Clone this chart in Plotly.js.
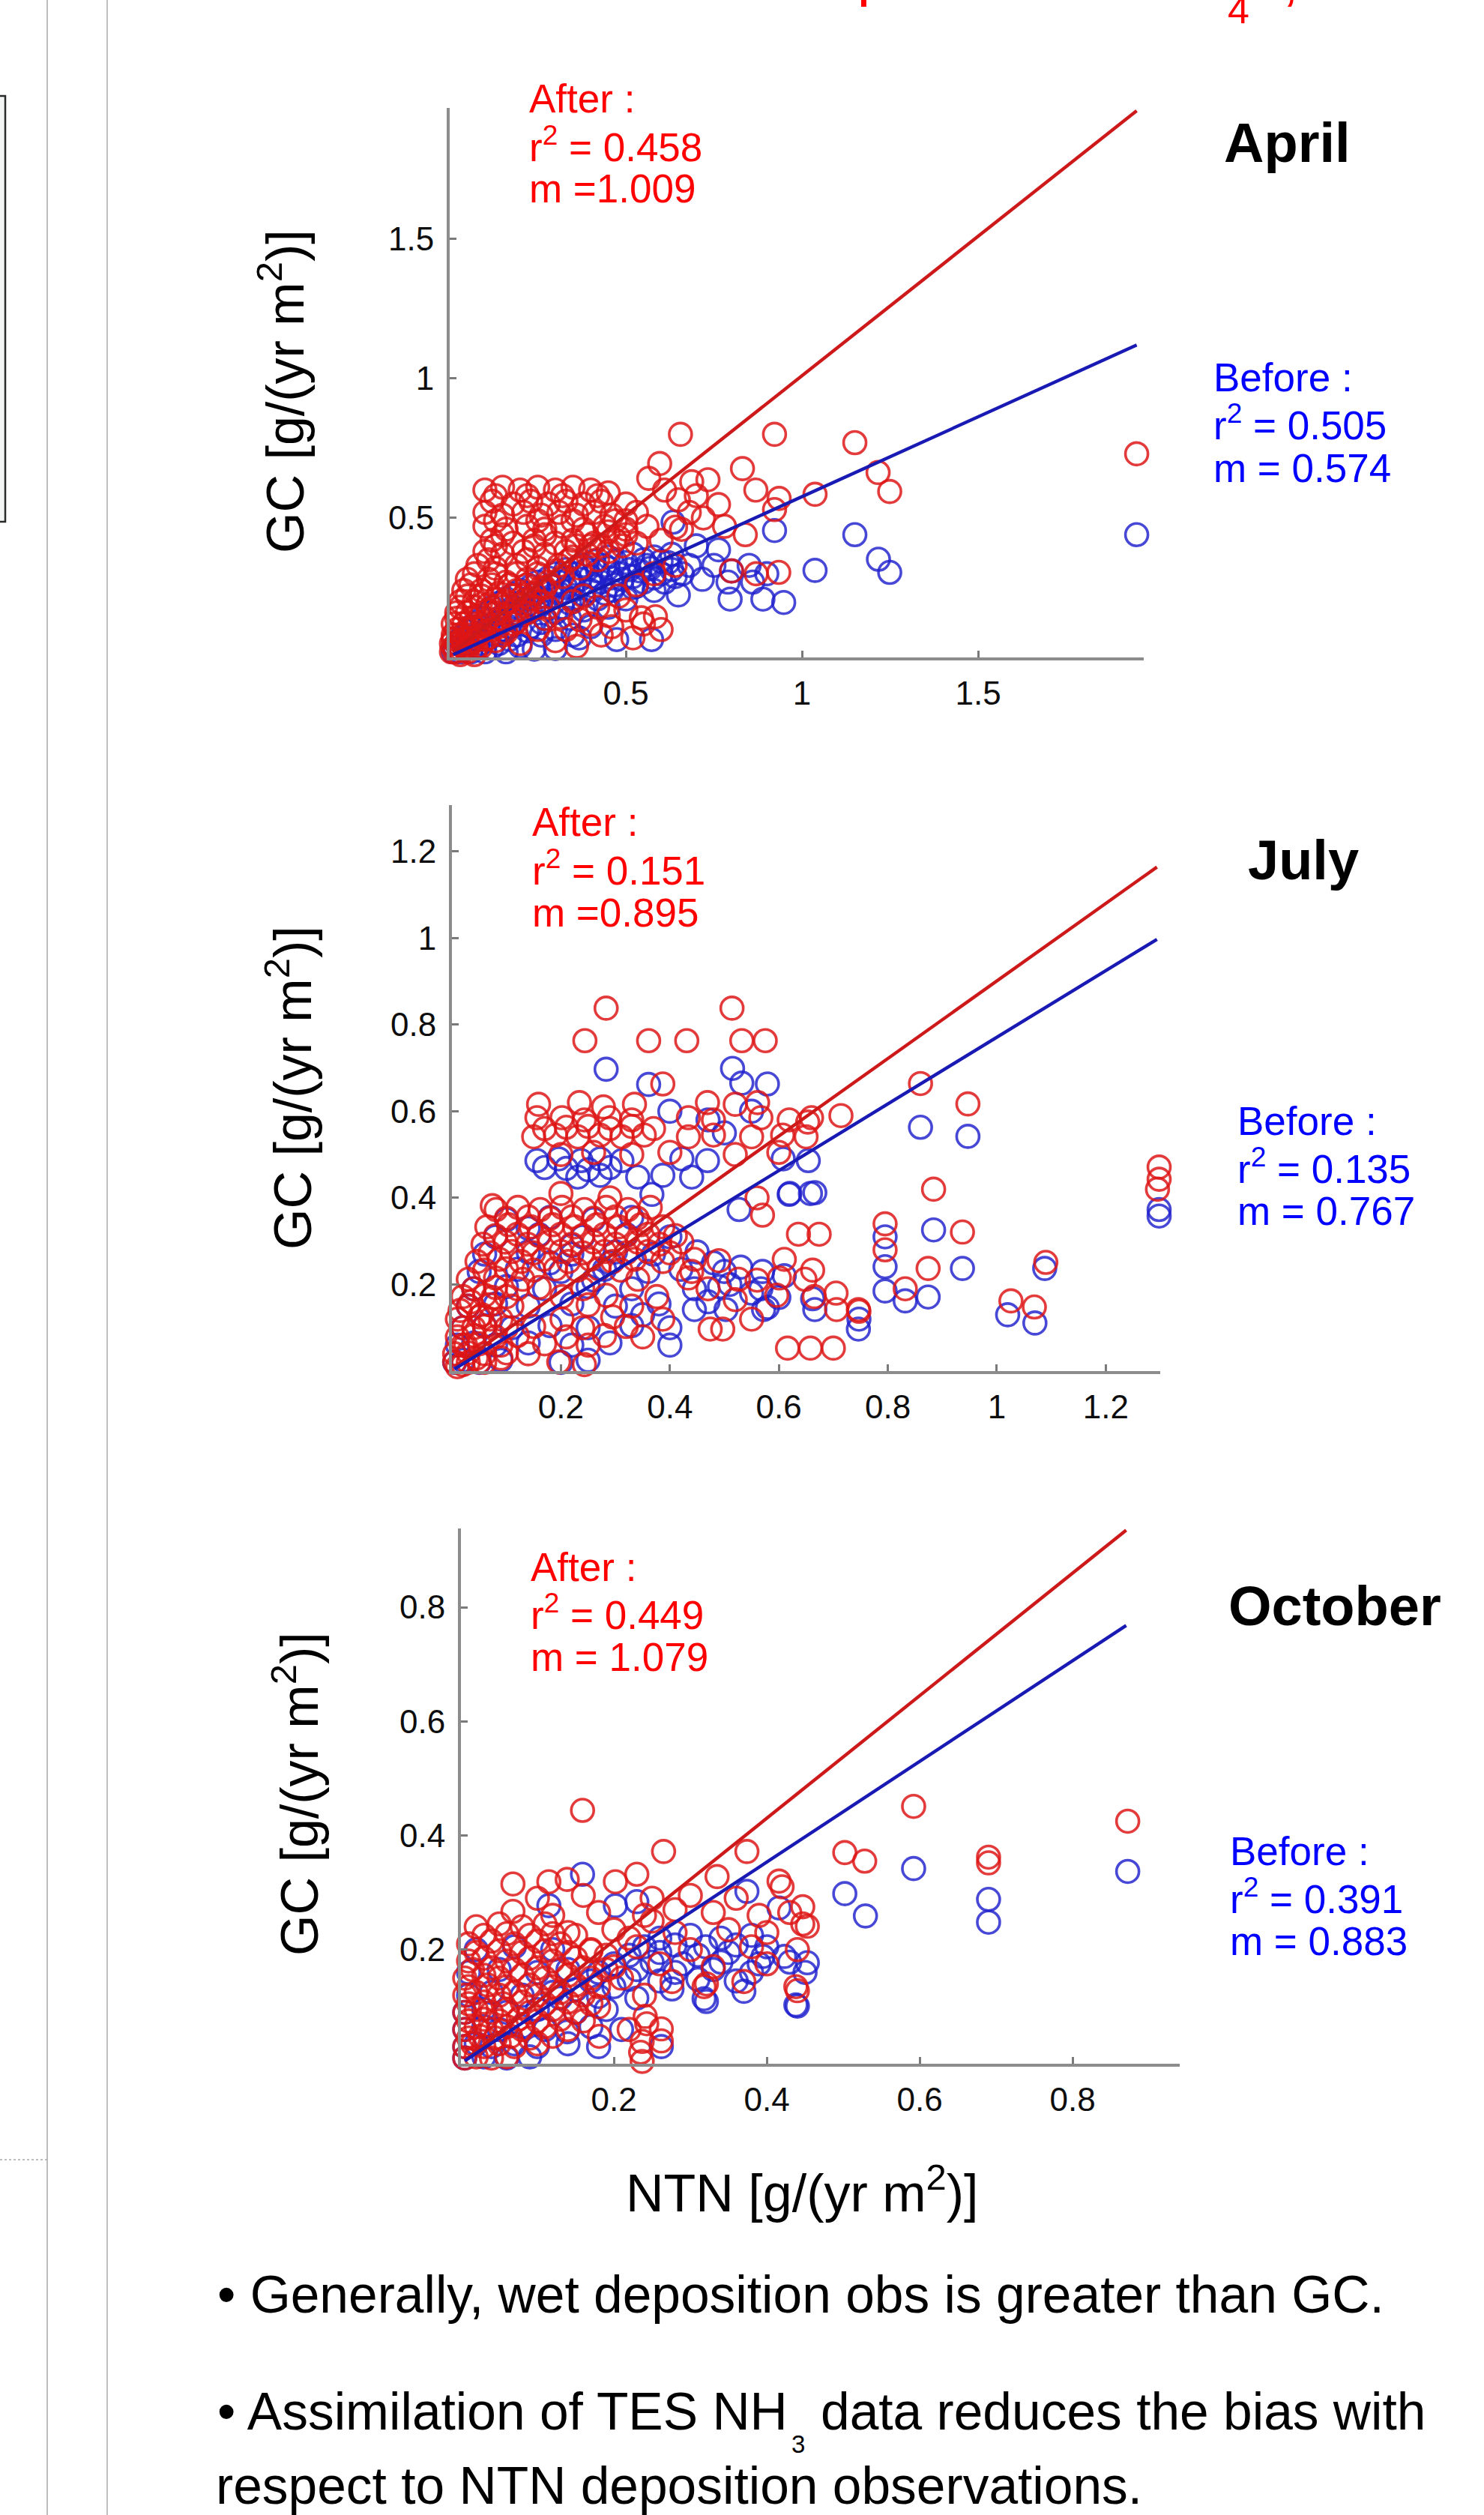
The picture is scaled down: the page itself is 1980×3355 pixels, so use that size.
<!DOCTYPE html>
<html>
<head>
<meta charset="utf-8">
<script src="https://cdn.plot.ly/plotly-3.0.1.min.js"></script>
<style>
html,body{margin:0;padding:0;background:#fff;}
#chart{width:1980px;height:3355px;}
</style>
</head>
<body>
<div id="chart"></div>
<script>
// ---------------- DATA ----------------
// April: [NTN, GC]
const aprAfter = [
[1.95,0.73],[1.15,0.77],[0.655,0.80],[0.922,0.80],[1.216,0.663],[1.249,0.595],[1.037,0.585],[0.596,0.695],[0.831,0.677],[0.565,0.642],
[0.869,0.60],[0.763,0.548],[0.733,0.637],[0.687,0.63],[0.649,0.565],[0.641,0.467],[0.922,0.53],[0.935,0.57],[0.839,0.44],[0.658,0.459],
[0.934,0.305],[0.87,0.30],[0.80,0.31],[0.70,0.58],[0.61,0.60],[0.72,0.50],[0.78,0.47],[0.68,0.52],
[0.10,0.60],[0.15,0.61],[0.20,0.60],[0.25,0.61],[0.30,0.60],[0.35,0.61],[0.40,0.60],[0.45,0.59],
[0.12,0.56],[0.18,0.55],[0.23,0.56],[0.28,0.55],[0.33,0.56],[0.38,0.55],[0.43,0.56],[0.50,0.55],
[0.10,0.52],[0.15,0.51],[0.21,0.52],[0.26,0.51],[0.31,0.52],[0.36,0.51],[0.41,0.52],[0.46,0.51],[0.53,0.52],
[0.10,0.47],[0.16,0.46],[0.22,0.47],[0.27,0.46],[0.32,0.47],[0.38,0.46],[0.44,0.47],[0.50,0.46],[0.56,0.47],
[0.12,0.42],[0.18,0.41],[0.24,0.42],[0.30,0.41],[0.35,0.42],[0.41,0.41],[0.47,0.42],[0.53,0.41],[0.60,0.42],
[0.10,0.38],[0.15,0.37],[0.21,0.38],[0.27,0.37],[0.33,0.38],[0.39,0.37],[0.45,0.38],
[0.08,0.33],[0.13,0.32],[0.19,0.33],[0.25,0.32],[0.31,0.33],[0.37,0.32],
[0.05,0.28],[0.11,0.28],[0.16,0.27],[0.22,0.28],[0.28,0.27],
[0.04,0.24],[0.09,0.24],[0.14,0.23],[0.19,0.24],[0.24,0.23],
[0.03,0.20],[0.07,0.20],[0.11,0.19],[0.16,0.20],[0.21,0.19],[0.26,0.20],
[0.02,0.16],[0.05,0.16],[0.09,0.15],[0.13,0.16],[0.17,0.15],[0.22,0.16],
[0.01,0.12],[0.04,0.12],[0.07,0.11],[0.10,0.12],[0.14,0.11],[0.18,0.12],
[0.01,0.08],[0.03,0.08],[0.05,0.07],[0.08,0.08],[0.11,0.07],[0.15,0.08],
[0.005,0.05],[0.02,0.05],[0.04,0.04],[0.06,0.05],[0.09,0.04],
[0.005,0.02],[0.015,0.02],[0.03,0.01],[0.05,0.02],[0.07,0.01],
[0.544,0.142],[0.584,0.146],[0.60,0.10],[0.55,0.12],[0.37,0.135],[0.315,0.144],[0.25,0.10],[0.42,0.18],[0.48,0.22],[0.40,0.12],
[0.30,0.06],[0.20,0.05],[0.35,0.20],[0.45,0.15],[0.53,0.26],[0.58,0.30],[0.64,0.33],
[0.07,0.30],[0.13,0.30],[0.19,0.30],[0.25,0.30],
[0.06,0.26],[0.12,0.26],[0.17,0.26],[0.22,0.26],[0.27,0.25],
[0.05,0.22],[0.09,0.22],[0.13,0.21],[0.18,0.22],[0.23,0.21],
[0.03,0.18],[0.07,0.18],[0.11,0.17],[0.15,0.18],[0.19,0.17],[0.24,0.18],
[0.02,0.14],[0.06,0.14],[0.10,0.13],[0.14,0.14],[0.19,0.13],
[0.02,0.10],[0.05,0.10],[0.09,0.09],[0.12,0.10],[0.16,0.09],
[0.01,0.065],[0.035,0.065],[0.07,0.06],[0.10,0.065],[0.13,0.06],
[0.01,0.035],[0.025,0.035],[0.045,0.03],[0.075,0.035],
[0.13,0.58],[0.22,0.58],[0.32,0.58],[0.42,0.58],
[0.13,0.49],[0.25,0.49],[0.35,0.49],[0.47,0.49],
[0.15,0.44],[0.27,0.44],[0.39,0.44],[0.50,0.44],
[0.13,0.40],[0.24,0.40],[0.36,0.40],[0.49,0.40],
[0.11,0.35],[0.22,0.35],[0.34,0.35],[0.42,0.35],
[0.28,0.18],[0.33,0.10],[0.38,0.22],[0.43,0.08],[0.50,0.17],[0.46,0.11],[0.27,0.14],[0.36,0.04],[0.52,0.07],
[0.30,0.31],[0.35,0.36],[0.40,0.40],[0.45,0.45],[0.50,0.49],[0.26,0.25],[0.21,0.22],[0.32,0.29],[0.43,0.40],[0.48,0.43]
];
const aprBefore = [
[1.95,0.44],[1.15,0.44],[1.217,0.352],[1.249,0.305],[1.037,0.312],[0.948,0.197],[0.889,0.209],[0.796,0.209],[0.922,0.455],[0.763,0.386],
[0.717,0.28],[0.649,0.224],[0.474,0.064],[0.573,0.064],[0.368,0.07],[0.30,0.032],[0.634,0.485],[0.80,0.31],[0.85,0.33],[0.90,0.30],
[0.79,0.27],[0.86,0.27],[0.70,0.40],[0.75,0.33],
[0.45,0.36],[0.52,0.37],[0.58,0.36],[0.63,0.37],
[0.38,0.33],[0.44,0.33],[0.50,0.34],[0.56,0.33],[0.62,0.34],[0.68,0.33],
[0.30,0.30],[0.36,0.30],[0.42,0.31],[0.48,0.30],[0.54,0.31],[0.60,0.30],[0.66,0.30],
[0.25,0.27],[0.31,0.27],[0.37,0.28],[0.43,0.27],[0.49,0.28],[0.55,0.27],[0.61,0.27],
[0.20,0.24],[0.27,0.24],[0.33,0.25],[0.40,0.24],[0.46,0.24],[0.52,0.25],[0.58,0.24],
[0.16,0.21],[0.22,0.21],[0.29,0.22],[0.35,0.21],[0.42,0.21],[0.50,0.21],
[0.12,0.18],[0.18,0.18],[0.25,0.18],[0.32,0.18],[0.38,0.17],[0.45,0.18],
[0.09,0.14],[0.14,0.14],[0.20,0.15],[0.27,0.14],[0.34,0.14],
[0.06,0.11],[0.11,0.11],[0.17,0.11],[0.23,0.11],[0.30,0.10],[0.40,0.11],
[0.04,0.08],[0.08,0.08],[0.13,0.08],[0.19,0.08],[0.26,0.08],[0.35,0.08],
[0.02,0.05],[0.05,0.05],[0.09,0.05],[0.14,0.05],[0.20,0.04],
[0.01,0.02],[0.03,0.02],[0.06,0.02],[0.10,0.02],[0.16,0.02],[0.24,0.03],
[0.41,0.345],[0.47,0.345],[0.55,0.35],[0.60,0.345],
[0.33,0.315],[0.39,0.315],[0.45,0.32],[0.51,0.315],[0.57,0.32],[0.63,0.315],
[0.28,0.285],[0.34,0.285],[0.40,0.29],[0.46,0.285],[0.52,0.29],[0.58,0.285],[0.64,0.29],
[0.23,0.255],[0.29,0.255],[0.35,0.26],[0.41,0.255],[0.47,0.26],[0.53,0.255],
[0.18,0.225],[0.24,0.225],[0.31,0.23],[0.38,0.225],[0.44,0.23],
[0.14,0.195],[0.20,0.195],[0.27,0.20],[0.34,0.195],
[0.11,0.16],[0.16,0.16],[0.23,0.165],[0.30,0.16],
[0.08,0.125],[0.13,0.125],[0.19,0.13],[0.26,0.125],
[0.05,0.095],[0.10,0.095],[0.15,0.10],[0.22,0.095],
[0.03,0.065],[0.07,0.065],[0.11,0.07],[0.17,0.065],
[0.015,0.035],[0.045,0.035],[0.08,0.04],[0.12,0.035]
];
// July
const julAfter = [
[0.283,0.838],[0.514,0.838],[0.244,0.763],[0.361,0.763],[0.431,0.763],[0.532,0.763],[0.575,0.763],[0.387,0.663],
[0.159,0.616],[0.234,0.62],[0.278,0.61],[0.335,0.616],[0.469,0.62],[0.52,0.616],[0.561,0.62],
[0.156,0.585],[0.202,0.585],[0.243,0.58],[0.289,0.585],[0.33,0.58],[0.434,0.585],[0.48,0.58],[0.567,0.585],[0.619,0.58],[0.66,0.585],
[0.15,0.541],[0.19,0.545],[0.231,0.541],[0.272,0.545],[0.312,0.541],[0.353,0.545],[0.434,0.541],[0.48,0.545],[0.55,0.541],[0.607,0.545],[0.65,0.541],
[0.20,0.50],[0.26,0.505],[0.33,0.50],[0.40,0.505],[0.52,0.50],[0.60,0.505],
[0.714,0.59],[0.653,0.575],[0.86,0.664],[0.947,0.617],[0.884,0.42],[1.298,0.471],[1.298,0.443],[1.295,0.42],
[0.937,0.321],[0.874,0.237],[0.832,0.19],[0.795,0.34],[0.795,0.28],[0.674,0.316],[0.636,0.316],[0.747,0.138],[0.705,0.18],[1.026,0.162],
[1.069,0.148],[1.09,0.251],[0.616,0.053],[0.658,0.053],[0.700,0.053],[0.61,0.258],[0.662,0.233],[0.57,0.36],[0.56,0.40],
[0.081,0.373],[0.121,0.378],[0.162,0.373],[0.202,0.378],[0.243,0.373],[0.283,0.378],[0.323,0.373],[0.364,0.378],
[0.064,0.333],[0.104,0.338],[0.145,0.333],[0.185,0.338],[0.225,0.333],[0.266,0.338],[0.306,0.333],[0.347,0.338],[0.387,0.333],
[0.057,0.293],[0.098,0.298],[0.139,0.293],[0.179,0.298],[0.22,0.293],[0.26,0.298],[0.30,0.293],[0.341,0.298],[0.381,0.293],[0.422,0.298],
[0.046,0.253],[0.087,0.258],[0.127,0.253],[0.168,0.258],[0.214,0.253],[0.254,0.258],[0.295,0.253],[0.335,0.258],[0.387,0.253],[0.445,0.258],
[0.074,0.382],[0.20,0.41],[0.29,0.40],
[0.03,0.212],[0.08,0.215],[0.13,0.212],[0.341,0.212],[0.434,0.215],[0.526,0.212],[0.601,0.215],[0.648,0.212],
[0.02,0.172],[0.06,0.175],[0.10,0.172],[0.202,0.172],[0.283,0.175],[0.376,0.172],[0.596,0.175],[0.665,0.172],
[0.706,0.142],[0.746,0.142],
[0.01,0.12],[0.05,0.125],[0.09,0.12],[0.202,0.12],[0.295,0.125],[0.387,0.12],
[0.474,0.097],[0.497,0.097],
[0.01,0.079],[0.04,0.082],[0.08,0.079],[0.12,0.082],[0.21,0.079],[0.28,0.082],[0.35,0.079],
[0.005,0.04],[0.03,0.042],[0.06,0.04],[0.10,0.042],[0.14,0.04],
[0.005,0.021],[0.02,0.015],[0.05,0.021],[0.196,0.021],[0.243,0.015],
[0.01,0.01],[0.03,0.02],[0.06,0.02],[0.09,0.03],
[0.10,0.353],[0.14,0.356],[0.18,0.353],[0.22,0.356],[0.26,0.353],[0.30,0.356],[0.34,0.353],
[0.08,0.313],[0.12,0.316],[0.16,0.313],[0.20,0.316],[0.24,0.313],[0.28,0.316],[0.32,0.313],[0.36,0.316],[0.41,0.313],
[0.07,0.273],[0.11,0.276],[0.15,0.273],[0.20,0.276],[0.24,0.273],[0.28,0.276],[0.32,0.273],[0.36,0.276],[0.40,0.273],
[0.06,0.233],[0.10,0.236],[0.15,0.233],[0.19,0.236],[0.23,0.233],[0.27,0.236],[0.31,0.233],
[0.04,0.19],[0.08,0.193],[0.12,0.19],[0.16,0.193],[0.24,0.19],
[0.03,0.15],[0.07,0.153],[0.11,0.15],[0.25,0.153],[0.33,0.15],
[0.02,0.10],[0.06,0.103],[0.10,0.10],[0.15,0.103],[0.24,0.10],[0.32,0.103],
[0.02,0.06],[0.05,0.063],[0.09,0.06],[0.17,0.063],[0.25,0.06],
[0.17,0.56],[0.21,0.563],[0.25,0.565],[0.29,0.56],[0.33,0.565],[0.37,0.56],
[0.44,0.23],[0.47,0.19],[0.52,0.165],[0.56,0.21],[0.49,0.255],[0.55,0.12],
[0.015,0.14],[0.035,0.16],[0.055,0.13],[0.075,0.17],[0.04,0.10],[0.07,0.12],[0.025,0.06],[0.045,0.03]
];
const julBefore = [
[0.283,0.697],[0.515,0.699],[0.361,0.662],[0.532,0.665],[0.579,0.663],
[0.40,0.60],[0.47,0.58],[0.55,0.60],[0.50,0.55],
[0.156,0.486],[0.196,0.49],[0.237,0.486],[0.272,0.49],[0.312,0.486],[0.422,0.49],[0.469,0.486],[0.608,0.49],[0.654,0.486],
[0.231,0.448],[0.272,0.452],[0.341,0.448],[0.387,0.452],[0.44,0.448],
[0.367,0.408],[0.619,0.408],[0.666,0.412],
[0.86,0.563],[0.947,0.542],[1.298,0.373],[1.298,0.358],[0.884,0.326],[0.937,0.237],[0.874,0.171],[0.832,0.162],[0.795,0.31],[0.795,0.241],
[0.795,0.185],[0.747,0.12],[1.02,0.13],[1.07,0.111],[1.088,0.237],[0.662,0.167],[0.579,0.147],[0.527,0.373],[0.62,0.41],[0.658,0.41],
[0.10,0.35],[0.18,0.355],[0.26,0.35],[0.33,0.355],
[0.08,0.31],[0.16,0.315],[0.24,0.31],[0.32,0.315],[0.40,0.31],
[0.06,0.27],[0.14,0.275],[0.22,0.27],[0.30,0.275],[0.37,0.27],[0.45,0.275],
[0.05,0.23],[0.12,0.235],[0.20,0.23],[0.28,0.235],[0.36,0.23],[0.42,0.235],[0.50,0.23],
[0.04,0.19],[0.10,0.195],[0.17,0.19],[0.25,0.195],[0.33,0.19],[0.445,0.19],[0.491,0.195],[0.567,0.19],
[0.445,0.142],[0.503,0.142],[0.572,0.142],[0.666,0.142],
[0.03,0.15],[0.08,0.155],[0.14,0.15],[0.22,0.155],[0.30,0.15],[0.38,0.155],
[0.02,0.10],[0.06,0.105],[0.11,0.10],[0.18,0.105],[0.25,0.10],[0.33,0.105],[0.40,0.10],
[0.746,0.097],
[0.01,0.06],[0.04,0.065],[0.08,0.06],[0.14,0.065],[0.22,0.06],[0.29,0.065],
[0.005,0.02],[0.02,0.025],[0.05,0.02],[0.09,0.025],[0.20,0.02],[0.25,0.025],
[0.17,0.47],[0.21,0.468],[0.25,0.465],[0.29,0.47],
[0.48,0.25],[0.53,0.24],[0.57,0.23],[0.61,0.22],[0.51,0.20],[0.55,0.18],[0.60,0.17],[0.47,0.16],
[0.14,0.33],[0.22,0.29],[0.29,0.25],[0.18,0.25],[0.26,0.21],[0.35,0.13],[0.40,0.06]
];
// October
const octAfter = [
[0.159,0.444],[0.592,0.451],[0.872,0.425],[0.69,0.362],[0.69,0.352],[0.502,0.37],[0.528,0.355],[0.265,0.372],[0.374,0.372],[0.438,0.135],
[0.318,0.135],[0.453,0.241],[0.416,0.32],[0.243,0.07],[0.235,0.02],[0.262,0.04],[0.23,0.332],[0.068,0.315],[0.115,0.319],[0.139,0.323],
[0.202,0.319],[0.335,0.328],[0.42,0.31],[0.068,0.267],[0.447,0.275],[0.447,0.245],[0.276,0.144],[0.321,0.14],[0.37,0.144],[0.44,0.128],
[0.241,0.083],[0.262,0.061],[0.237,0.039],[0.237,0.004],[0.181,0.048],
[0.10,0.29],[0.16,0.295],[0.25,0.29],[0.30,0.295],[0.36,0.29],
[0.12,0.26],[0.18,0.265],[0.24,0.26],[0.33,0.265],[0.39,0.26],[0.43,0.265],
[0.14,0.23],[0.20,0.235],[0.28,0.23],[0.35,0.235],[0.40,0.23],
[0.17,0.20],[0.23,0.205],[0.30,0.20],[0.38,0.205],[0.44,0.20],
[0.20,0.17],[0.26,0.175],[0.33,0.17],[0.40,0.175],
[0.02,0.24],[0.05,0.245],[0.08,0.24],[0.11,0.245],
[0.01,0.21],[0.04,0.215],[0.07,0.21],[0.10,0.215],[0.13,0.21],
[0.01,0.18],[0.03,0.185],[0.06,0.18],[0.09,0.185],[0.12,0.18],[0.15,0.185],
[0.005,0.15],[0.03,0.155],[0.05,0.15],[0.08,0.155],[0.11,0.15],[0.14,0.155],[0.17,0.15],
[0.005,0.12],[0.02,0.125],[0.05,0.12],[0.07,0.125],[0.10,0.12],[0.13,0.125],[0.16,0.12],
[0.005,0.09],[0.02,0.095],[0.04,0.09],[0.06,0.095],[0.09,0.09],[0.12,0.095],[0.15,0.09],
[0.005,0.06],[0.02,0.065],[0.04,0.06],[0.06,0.065],[0.08,0.06],[0.11,0.065],[0.14,0.06],
[0.005,0.03],[0.015,0.035],[0.03,0.03],[0.05,0.035],[0.07,0.03],[0.10,0.035],
[0.005,0.01],[0.02,0.012],[0.04,0.01],[0.06,0.012],
[0.03,0.225],[0.06,0.228],[0.09,0.225],[0.12,0.228],[0.15,0.225],
[0.02,0.195],[0.05,0.198],[0.08,0.195],[0.11,0.198],[0.14,0.195],[0.17,0.198],
[0.015,0.165],[0.04,0.168],[0.07,0.165],[0.10,0.168],[0.13,0.165],[0.16,0.168],[0.19,0.165],
[0.01,0.135],[0.035,0.138],[0.06,0.135],[0.09,0.138],[0.12,0.135],[0.15,0.138],[0.18,0.135],
[0.01,0.105],[0.03,0.108],[0.055,0.105],[0.08,0.108],[0.11,0.105],[0.14,0.108],[0.17,0.105],
[0.01,0.075],[0.03,0.078],[0.05,0.075],[0.075,0.078],[0.10,0.075],[0.13,0.078],[0.16,0.075],
[0.01,0.045],[0.025,0.048],[0.045,0.045],[0.065,0.048],[0.09,0.045],[0.12,0.048],
[0.22,0.22],[0.25,0.25],[0.28,0.27],[0.19,0.19],[0.21,0.15],[0.24,0.12],[0.18,0.10],[0.22,0.06]
];
const octBefore = [
[0.872,0.337],[0.592,0.342],[0.69,0.288],[0.69,0.248],[0.502,0.298],[0.529,0.259],[0.438,0.103],[0.318,0.114],[0.453,0.177],[0.416,0.273],
[0.159,0.332],[0.115,0.277],[0.202,0.277],[0.23,0.284],[0.374,0.302],[0.45,0.16],[0.423,0.188],[0.395,0.188],[0.276,0.131],[0.321,0.109],
[0.37,0.127],[0.44,0.101],[0.262,0.03],[0.139,0.056],
[0.26,0.22],[0.30,0.225],[0.34,0.22],[0.38,0.225],
[0.22,0.19],[0.26,0.195],[0.31,0.19],[0.35,0.195],
[0.18,0.16],[0.23,0.165],[0.28,0.16],[0.33,0.165],[0.38,0.16],
[0.15,0.13],[0.20,0.135],
[0.02,0.20],[0.07,0.205],[0.12,0.20],
[0.01,0.16],[0.05,0.165],[0.10,0.16],[0.14,0.165],
[0.01,0.12],[0.04,0.125],[0.08,0.12],[0.12,0.125],
[0.005,0.09],[0.03,0.095],[0.06,0.09],[0.10,0.095],[0.15,0.09],[0.19,0.095],
[0.005,0.06],[0.03,0.065],[0.05,0.06],[0.08,0.065],[0.11,0.06],[0.17,0.065],[0.21,0.06],
[0.005,0.03],[0.02,0.035],[0.04,0.03],[0.07,0.035],[0.10,0.03],[0.14,0.035],[0.18,0.03],
[0.005,0.01],[0.03,0.012],[0.06,0.01],[0.09,0.012],
[0.24,0.205],[0.28,0.208],[0.32,0.205],[0.36,0.208],[0.40,0.205],
[0.20,0.175],[0.25,0.178],[0.29,0.175],[0.34,0.178],[0.39,0.175],[0.43,0.178],
[0.17,0.145],[0.22,0.148],[0.26,0.145],[0.31,0.148],[0.36,0.145],
[0.13,0.115],[0.18,0.118],[0.23,0.115]
];
// Regression lines (endpoints)
const aprLineX = [0.01, 1.95], aprAfterLineY = [0.02, 1.96], aprBeforeLineY = [0.01, 1.12];
const julLineX = [0.005, 1.294], julAfterLineY = [0.01, 1.164], julBeforeLineY = [0.005, 0.997];
const octLineX = [0.005, 0.87], octAfterLineY = [0.006, 0.935], octBeforeLineY = [0.005, 0.768];
// Axis ticks
const aprTicks = [0.5, 1, 1.5], aprTickText = ['0.5','1','1.5'];
const julTicks = [0.2, 0.4, 0.6, 0.8, 1, 1.2], julTickText = ['0.2','0.4','0.6','0.8','1','1.2'];
const octTicks = [0.2, 0.4, 0.6, 0.8], octTickText = ['0.2','0.4','0.6','0.8'];
// Statistics
const months = ['April','July','October'];
const afterR2 = ['0.458','0.151','0.449'], afterM = ['=1.009','=0.895','= 1.079'];
const beforeR2 = ['0.505','0.135','0.391'], beforeM = ['= 0.574','= 0.767','= 0.883'];

// ---------------- LAYOUT ----------------
const W = 1980, H = 3355;
const fx = p => p / W;
const fy = p => 1 - p / H;
const FONT = 'Liberation Sans, Arial, Helvetica, sans-serif';
const RED_M = 'rgba(222,22,22,0.84)';
const BLUE_M = 'rgba(32,32,205,0.82)';

function scat(pts, color, xa, ya) {
  return {type:'scatter', mode:'markers', x: pts.map(p=>p[0]), y: pts.map(p=>p[1]),
    xaxis: xa, yaxis: ya, cliponaxis:false, hoverinfo:'skip',
    marker:{symbol:'circle-open', size:30, color: color, line:{width:3.6}}};
}
function fit(xs, ys, color, xa, ya) {
  return {type:'scatter', mode:'lines', x: xs, y: ys, xaxis: xa, yaxis: ya, hoverinfo:'skip',
    line:{color: color, width:4.4}};
}
const data = [
  scat(aprBefore, BLUE_M, 'x', 'y'), scat(aprAfter, RED_M, 'x', 'y'),
  fit(aprLineX, aprAfterLineY, 'rgb(205,25,25)', 'x', 'y'), fit(aprLineX, aprBeforeLineY, 'rgb(25,25,180)', 'x', 'y'),
  scat(julBefore, BLUE_M, 'x2', 'y2'), scat(julAfter, RED_M, 'x2', 'y2'),
  fit(julLineX, julAfterLineY, 'rgb(205,25,25)', 'x2', 'y2'), fit(julLineX, julBeforeLineY, 'rgb(25,25,180)', 'x2', 'y2'),
  scat(octBefore, BLUE_M, 'x3', 'y3'), scat(octAfter, RED_M, 'x3', 'y3'),
  fit(octLineX, octAfterLineY, 'rgb(205,25,25)', 'x3', 'y3'), fit(octLineX, octBeforeLineY, 'rgb(25,25,180)', 'x3', 'y3')
];

function axis(domain, range, tv, tt, anchor, standoff) {
  return {domain: domain, range: range, anchor: anchor, tickmode:'array', tickvals: tv, ticktext: tt,
    showline:true, linecolor:'#8c8c8c', linewidth:4, ticks:'inside', ticklen:9, tickwidth:3, tickcolor:'#7a7a7a',
    showgrid:false, zeroline:false, fixedrange:true, ticklabelstandoff: standoff,
    tickfont:{family: FONT, size:44, color:'#0d0d0d'}};
}

const layout = {
  width: W, height: H, margin:{l:0,r:0,t:0,b:0,pad:0},
  paper_bgcolor:'#ffffff', plot_bgcolor:'rgba(0,0,0,0)', showlegend:false,
  xaxis:  axis([fx(600), fx(1526)], [0, 1.97], aprTicks, aprTickText, 'y', 6),
  yaxis:  axis([fy(877), fy(144)], [0, 1.97], aprTicks, aprTickText, 'x', 8),
  xaxis2: axis([fx(603), fx(1548)], [0, 1.30], julTicks, julTickText, 'y2', 6),
  yaxis2: axis([fy(1829), fy(1074)], [0, 1.307], julTicks, julTickText, 'x2', 8),
  xaxis3: axis([fx(615), fx(1574)], [0, 0.94], octTicks, octTickText, 'y3', 6),
  yaxis3: axis([fy(2753), fy(2039)], [0, 0.938], octTicks, octTickText, 'x3', 8),
  shapes: [
    {type:'line', xref:'paper', yref:'paper', x0:fx(63), x1:fx(63), y0:0, y1:1, line:{color:'#bdbdbd', width:2}},
    {type:'line', xref:'paper', yref:'paper', x0:fx(143), x1:fx(143), y0:0, y1:1, line:{color:'#ababab', width:1.5}},
    {type:'line', xref:'paper', yref:'paper', x0:0, x1:fx(63), y0:fy(2881), y1:fy(2881), line:{color:'#aaaaaa', width:1.5, dash:'dot'}},
    {type:'rect', xref:'paper', yref:'paper', x0:fx(-6), x1:fx(7), y0:fy(696), y1:fy(128), line:{color:'#2a2a2a', width:2.5}, fillcolor:'#f3f4f4'}
  ],
  annotations: []
};

function ann(text, x, y, opts) {
  return Object.assign({text: text, xref:'paper', yref:'paper', x: fx(x), y: fy(y), showarrow:false,
    xanchor:'left', yanchor:'middle', font:{family: FONT, size:53, color:'#ff0000'}}, opts || {});
}
const A = layout.annotations;
// partially visible slide title at top
A.push(ann('Wet deposition of NH', 1636, -34, {xanchor:'right', font:{family:FONT, size:78, color:'#ff0000'}}));
A.push(ann('4', 1636, 13, {font:{family:FONT, size:52, color:'#ff0000'}}));
A.push(ann('<sup>+</sup>, GC vs. NTN', 1677, -34, {font:{family:FONT, size:78, color:'#ff0000'}}));

// After / Before statistics and month labels
const afterPos = [[704,[131,192,251]],[708,[1096,1157,1217]],[706,[2090,2150,2210]]];
const beforePos = [[1617,[504,564,624]],[1649,[1495,1555,1615]],[1639,[2469,2529,2589]]];
const monthPos = [[1631,190],[1663,1147],[1637,2142]];
const gcLabelPos = [[376,522],[386,1451],[395,2393]];
for (let i = 0; i < 3; i++) {
  const [ax, ay] = afterPos[i];
  A.push(ann('After :', ax, ay[0]));
  A.push(ann('r<sup>2</sup> = ' + afterR2[i], ax, ay[1]));
  A.push(ann('m ' + afterM[i], ax, ay[2]));
  const [bx, by] = beforePos[i];
  const blue = {family: FONT, size:53, color:'#0000ff'};
  A.push(ann('Before :', bx, by[0], {font: blue}));
  A.push(ann('r<sup>2</sup> = ' + beforeR2[i], bx, by[1], {font: blue}));
  A.push(ann('m ' + beforeM[i], bx, by[2], {font: blue}));
  A.push(ann('<b>' + months[i] + '</b>', monthPos[i][0], monthPos[i][1], {font:{family:FONT, size:74, color:'#000000'}}));
  A.push(ann('GC [g/(yr m<sup>2</sup>)]', gcLabelPos[i][0], gcLabelPos[i][1], {xanchor:'center', textangle:-90, font:{family:FONT, size:70, color:'#000000'}}));
}
A.push(ann('NTN [g/(yr m<sup>2</sup>)]', 1070, 2921, {xanchor:'center', font:{family:FONT, size:70, color:'#000000'}}));
const black = {family:FONT, size:69.5, color:'#000000'};
A.push(ann('• Generally, wet deposition obs is greater than GC.', 288, 3061, {font: black}));
A.push(ann('• Assimilation of TES NH', 288, 3217, {font: black}));
A.push(ann('3', 1054, 3260, {font:{family:FONT, size:33, color:'#000000'}}));
A.push(ann('data reduces the bias with', 1093, 3217, {font: black}));
A.push(ann('respect to NTN deposition observations.', 286, 3316, {font: black}));

Plotly.newPlot('chart', data, layout, {staticPlot:true, displayModeBar:false});
</script>
</body>
</html>
